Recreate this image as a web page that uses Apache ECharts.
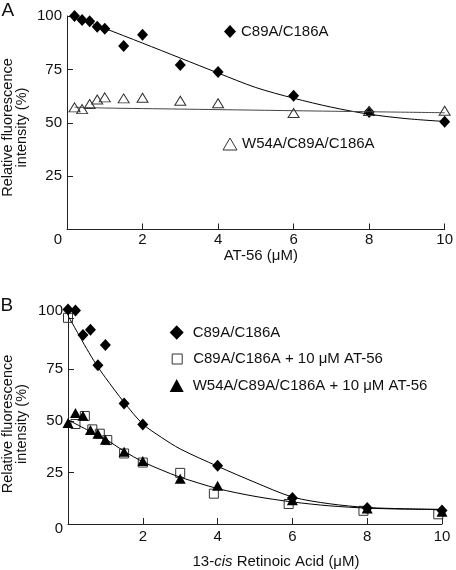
<!DOCTYPE html>
<html><head><meta charset="utf-8">
<script src="https://cdn.jsdelivr.net/npm/echarts@6/dist/echarts.min.js"></script>
<style>html,body{margin:0;padding:0;background:#fff}#c{width:456px;height:570px}</style>
</head><body><div id="c"></div>
<script>
// ---------- Panel A data ----------
const xA = [0.2, 0.4, 0.6, 0.8, 1, 1.5, 2, 3, 4, 6, 8, 10];
const diamondA = [100, 98.1, 97.5, 95, 94, 86, 91.2, 77, 73.8, 62.7, 55, 50.5];
const triangleA = [57.2, 56.4, 58.8, 60.9, 61.9, 61.4, 61.7, 60.3, 59.1, 54.6, 55.5, 55.6];
const fitA1x = [0.2, 0.5, 1, 2, 3, 4, 5, 6, 7, 8, 9, 10];
const fitA1y = [99.3, 97.6, 94.2, 87.3, 80.3, 73.3, 66.5, 61.5, 57.3, 54, 51.9, 50.6];
const fitA2x = [0.2, 1, 3, 5, 7, 10];
const fitA2y = [57.3, 56.9, 56.4, 55.9, 55.4, 54.7];

// ---------- Panel B data ----------
const xBd = [0, 0.2, 0.4, 0.6, 0.8, 1, 1.5, 2, 4, 6, 8, 10];
const diamondB = [104, 103.5, 91.7, 94.2, 77, 86.8, 58.4, 48.2, 28.3, 12.6, 7.7, 6.6];
const xBs = [0, 0.2, 0.45, 0.65, 0.85, 1.05, 1.5, 2, 3, 3.9, 5.9, 7.9, 9.9];
const squareB = [100, 48.5, 52.4, 45.9, 43.8, 40.7, 34.2, 29.8, 24.8, 14.7, 9.7, 6.4, 4.7];
const xBt = [0, 0.2, 0.4, 0.6, 0.8, 1, 1.5, 2, 3, 4, 6, 8, 10];
const triangleB = [49, 53.8, 52.5, 45.6, 43.8, 40.8, 35, 30.5, 21.9, 18.5, 11.5, 7.5, 6];
const fitB1x = [0, 0.25, 0.5, 0.75, 1, 1.5, 2, 2.5, 3, 4, 5, 6, 7, 8, 9, 10];
const fitB1y = [101, 93, 85, 77.5, 71, 59, 48.5, 42, 36.4, 28, 20.2, 13.1, 9.8, 8, 7.4, 7.1];
const fitB2x = [0, 0.5, 1, 1.5, 2, 2.5, 3, 4, 5, 6, 7, 8, 9, 10];
const fitB2y = [50.5, 45.8, 41.2, 35.3, 30.2, 26.2, 22.7, 17.2, 13.4, 10.7, 8.8, 7.7, 7.2, 7];

// ---------- ticks / labels ----------
const xTickVals = [0, 2, 4, 6, 8, 10];
const xLabelVals = [2, 4, 6, 8, 10];
const yTickVals = [0, 25, 50, 75, 100];
const nameA = 'C89A/C186A';
const nameA2 = 'W54A/C89A/C186A';
const nameB2 = 'C89A/C186A + 10 μM AT-56';
const nameB3 = 'W54A/C89A/C186A + 10 μM AT-56';
const yTitle = 'Relative fluorescence\nintensity (%)';

const FONT = "'Liberation Sans', Arial, Helvetica, sans-serif";
const TXT = '#111';
const AX = '#222';
const pairs = (xs, ys) => xs.map((x, i) => [x, ys[i]]);

function mkXAxis(grid, name, nameGap, padLeft, labelMargin, rich) {
  return {
    gridIndex: grid, type: 'value', min: 0, max: 10, interval: 2,
    axisLine: { show: true, lineStyle: { color: AX, width: 1 } },
    axisTick: { show: true, inside: true, length: 6, customValues: xTickVals, lineStyle: { color: AX } },
    axisLabel: { customValues: xLabelVals, margin: labelMargin, fontSize: 15, fontFamily: FONT, color: TXT,
      formatter: v => (v === 0 ? '' : String(v)) },
    splitLine: { show: false },
    name: name, nameLocation: 'middle', nameGap: nameGap,
    nameTextStyle: { fontSize: 15, fontFamily: FONT, color: TXT, padding: [0, 0, 0, padLeft], rich: rich || {} }
  };
}
function mkYAxis(grid, max, zeroPad, topPad) {
  return {
    gridIndex: grid, type: 'value', min: 0, max: max, interval: 25,
    axisLine: { show: true, lineStyle: { color: AX, width: 1 } },
    axisTick: { show: true, inside: true, length: 6, customValues: yTickVals, lineStyle: { color: AX } },
    axisLabel: { customValues: yTickVals, margin: 5, fontSize: 15, fontFamily: FONT, color: TXT,
      formatter: v => (v === 0 ? '{z|0}' : (v === 100 ? '{h|100}' : (v % 25 ? '' : String(v)))),
      rich: {
        z: { fontSize: 15, fontFamily: FONT, color: TXT, padding: [zeroPad, 0, 0, 0] },
        h: { fontSize: 15, fontFamily: FONT, color: TXT, padding: [0, 0, topPad, 0] }
      } },
    splitLine: { show: false }
  };
}
function fit(name, grid, xs, ys, color) {
  return { name: name, type: 'line', xAxisIndex: grid, yAxisIndex: grid, data: pairs(xs, ys),
    showSymbol: false, symbol: 'none', smooth: 0.3, silent: true, z: 3,
    lineStyle: { color: color, width: 1 } };
}
function pts(name, grid, xs, ys, symbol, size, style) {
  return { name: name, type: 'scatter', xAxisIndex: grid, yAxisIndex: grid, data: pairs(xs, ys),
    symbol: symbol, symbolSize: size, z: 2, silent: true, itemStyle: Object.assign({ opacity: 1 }, style) };
}
function mkLegend(name, icon, left, top, w, h, style, textPad) {
  return { data: [{ name: name, icon: icon }], left: left, top: top, orient: 'vertical', padding: 0,
    itemWidth: w, itemHeight: h, selectedMode: false, itemStyle: style,
    textStyle: { fontSize: 15, fontFamily: FONT, color: TXT, padding: [0, 0, 0, textPad] } };
}
function yTitleText(cx, cy) {
  return { type: 'text', x: cx, y: cy, rotation: Math.PI / 2,
    style: { text: yTitle, fontSize: 14.5, lineHeight: 14.5, fontFamily: FONT, fill: TXT,
      align: 'center', verticalAlign: 'middle' } };
}
const filled = { color: '#000', borderWidth: 0 };
const open = { color: 'rgba(255,255,255,0)', borderColor: '#333', borderWidth: 1 };
const openLeg = { color: '#fff', borderColor: '#333', borderWidth: 1 };

const chart = echarts.init(document.getElementById('c'), null, { renderer: 'canvas', width: 456, height: 570 });

const option = {
  animation: false,
  backgroundColor: '#fff',
  textStyle: { fontFamily: FONT },
  grid: [
    { left: 67, top: 16, width: 380, height: 213.5 },
    { left: 68, top: 307.5, width: 374, height: 218 }
  ],
  xAxis: [
    mkXAxis(0, 'AT-56 (μM)', 18, 10, 3),
    mkXAxis(1, '13-{i|cis} Retinoic Acid (μM)', 30, 42, 5,
      { i: { fontSize: 15, fontFamily: FONT, color: TXT, fontStyle: 'italic' } })
  ],
  yAxis: [
    mkYAxis(0, 100, 20, 0),
    mkYAxis(1, 105, 10, 14)
  ],
  legend: [
    mkLegend(nameA, 'diamond', 224, 24, 12, 13, filled, 0),
    mkLegend(nameA2, 'triangle', 222.5, 136.5, 14, 12, openLeg, 0),
    mkLegend(nameA, 'diamond', 169.7, 325, 14, 14.5, filled, 4),
    mkLegend(nameB2, 'rect', 171.7, 351.5, 10, 10, openLeg, 6),
    mkLegend(nameB3, 'triangle', 169.7, 378, 14, 13, filled, 4)
  ],
  graphic: [
    { type: 'text', left: 1.5, top: 1.5, style: { text: 'A', fontSize: 19, fontFamily: FONT, fill: TXT } },
    { type: 'text', left: 0.5, top: 296.5, style: { text: 'B', fontSize: 19, fontFamily: FONT, fill: TXT } },
    yTitleText(15, 127.5),
    yTitleText(15, 424)
  ],
  series: [
    pts(nameA, 0, xA, diamondA, 'diamond', [11, 12], filled),
    pts(nameA2, 0, xA, triangleA, 'triangle', [11, 9], open),
    fit('fitA1', 0, fitA1x, fitA1y, '#000'),
    fit('fitA2', 0, fitA2x, fitA2y, '#444'),
    pts(nameB2, 1, xBs, squareB, 'rect', [9, 9], open),
    pts(nameB3, 1, xBt, triangleB, 'triangle', [11, 10], filled),
    pts(nameA, 1, xBd, diamondB, 'diamond', [11, 12], filled),
    fit('fitB1', 1, fitB1x, fitB1y, '#000'),
    fit('fitB2', 1, fitB2x, fitB2y, '#000')
  ]
};
chart.setOption(option);
</script>
</body></html>
